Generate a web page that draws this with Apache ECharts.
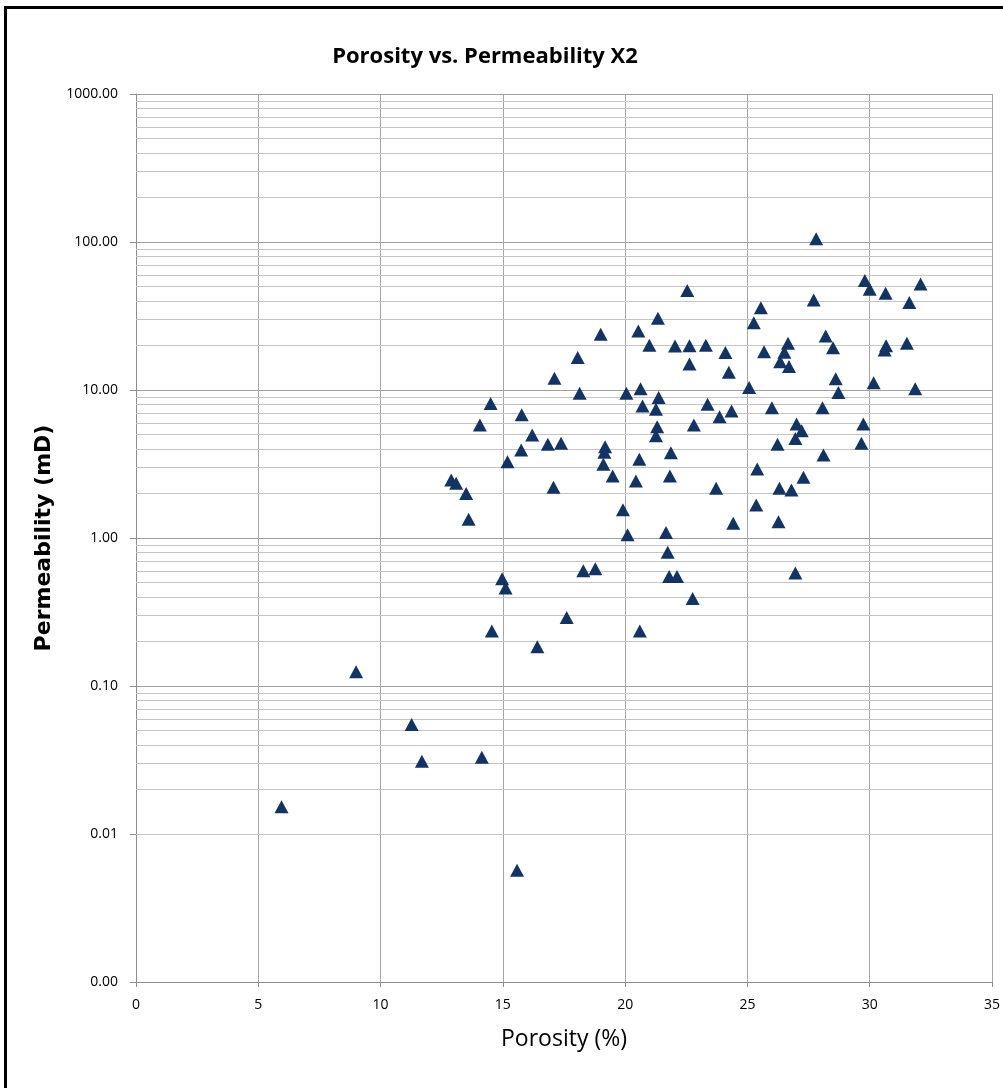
<!DOCTYPE html>
<html>
<head>
<meta charset="utf-8">
<style>
  html, body { margin: 0; padding: 0; background: #ffffff; }
  #chart { width: 1003px; height: 1088px; }
</style>
<script src="https://cdn.jsdelivr.net/npm/echarts@6/dist/echarts.min.js"></script>
</head>
<body>
<div id="chart"></div>
<script>
// Core samples: porosity (%) and permeability (mD)
const porosity = [
  27.81, 29.80, 30.00, 30.65, 32.08, 31.62, 22.54, 27.71, 25.55, 25.26,
  28.20, 28.50, 30.67, 30.61, 31.52, 26.66, 26.51, 26.34, 26.70, 25.68,
  22.63, 22.63, 23.30, 24.10, 24.24, 25.07, 28.61, 28.72, 30.16, 31.86,
  23.37, 23.86, 24.35, 26.00, 28.07, 21.34, 20.54, 19.00, 20.99, 22.04,
  18.06, 17.11, 18.14, 20.05, 20.63, 21.37, 20.71, 21.26, 14.50, 15.77,
  14.06, 21.31, 21.26, 22.81, 16.20, 16.84, 17.38, 15.75, 19.18, 19.15,
  19.11, 15.19, 19.49, 20.58, 21.87, 21.83, 20.44, 12.89, 13.09, 13.50,
  17.07, 13.60, 19.91, 20.10, 21.67, 21.74, 18.29, 18.78, 21.80, 22.12,
  14.97, 15.11, 22.76, 17.61, 27.01, 27.22, 26.96, 29.74, 29.66, 26.23,
  28.11, 25.40, 27.29, 26.31, 26.80, 23.72, 25.36, 24.42, 26.27, 26.96,
  14.55, 20.60, 16.41, 9.00, 11.27, 11.69, 14.14, 5.95, 15.58
];
const permeability = [
  105, 55, 48, 45, 52, 39, 47, 40.5, 36, 28.5,
  23.2, 19.3, 19.9, 18.6, 20.7, 20.7, 18.0, 15.5, 14.4, 18.1,
  19.9, 15.0, 20.1, 17.9, 13.2, 10.4, 11.9, 9.6, 11.2, 10.2,
  8.0, 6.6, 7.2, 7.6, 7.6, 30.5, 25.0, 23.8, 20.1, 19.8,
  16.6, 12.0, 9.5, 9.5, 10.2, 8.9, 7.8, 7.4, 8.1, 6.8,
  5.8, 5.65, 4.9, 5.8, 4.97, 4.3, 4.36, 3.93, 4.14, 3.79,
  3.15, 3.28, 2.62, 3.40, 3.77, 2.62, 2.43, 2.47, 2.34, 2.00,
  2.20, 1.34, 1.55, 1.05, 1.09, 0.80, 0.60, 0.62, 0.55, 0.55,
  0.53, 0.46, 0.39, 0.29, 5.9, 5.3, 4.7, 5.9, 4.36, 4.3,
  3.64, 2.93, 2.57, 2.17, 2.11, 2.17, 1.67, 1.26, 1.29, 0.58,
  0.235, 0.235, 0.184, 0.125, 0.055, 0.031, 0.033, 0.0153, 0.0057
];

// Axis ranges
const xTicks = [0, 5, 10, 15, 20, 25, 30, 35];
const yDecades = [0.001, 0.01, 0.1, 1, 10, 100, 1000];
const minorMultipliers = [2, 3, 4, 5, 6, 7, 8, 9];

const points = porosity.map((p, i) => [p, permeability[i]]);

// Minor gridlines inside each decade (2..9 x 10^k)
const minorLines = [];
for (let d = 0; d < yDecades.length - 1; d++) {
  minorMultipliers.forEach(m => {
    minorLines.push({ yAxis: +(m * yDecades[d]).toPrecision(3) });
  });
}

const chart = echarts.init(document.getElementById('chart'), null, { renderer: 'canvas' });

const labelFont = '"Liberation Sans Narrow", "Open Sans", sans-serif';

chart.setOption({
  animation: false,
  backgroundColor: '#ffffff',
  title: {
    text: 'Porosity vs. Permeability X2',
    left: 480,
    top: 41,
    textAlign: 'center',
    textStyle: {
      fontFamily: labelFont,
      fontSize: 22,
      fontWeight: 'bold',
      color: '#000000'
    }
  },
  // frame edges along the left and top of the page
  graphic: [{
    type: 'polyline',
    shape: { points: [[5.5, 1088], [5.5, 7.5], [1003, 7.5]] },
    style: { fill: null, stroke: '#000000', lineWidth: 3 },
    silent: true,
    z: 100
  }],
  grid: {
    left: 136,
    right: 11,
    top: 94,
    bottom: 106,
    containLabel: false
  },
  xAxis: {
    type: 'value',
    min: xTicks[0],
    max: xTicks[xTicks.length - 1],
    interval: 5,
    name: 'Porosity (%)',
    nameLocation: 'middle',
    nameGap: 46,
    nameTextStyle: {
      fontFamily: labelFont,
      fontSize: 23,
      color: '#000000'
    },
    axisLine: { show: true, lineStyle: { color: '#8c8c8c', width: 1 } },
    axisTick: { show: true, length: 5, lineStyle: { color: '#8c8c8c' } },
    axisLabel: {
      margin: 16,
      fontFamily: labelFont,
      fontSize: 14,
      color: '#000000'
    },
    splitLine: { show: true, lineStyle: { color: '#a6a6a6', width: 1 } }
  },
  yAxis: {
    type: 'log',
    logBase: 10,
    min: yDecades[0],
    max: yDecades[yDecades.length - 1],
    name: 'Permeability (mD)',
    nameLocation: 'middle',
    nameGap: 69,
    nameRotate: 90,
    nameTextStyle: {
      fontFamily: '"DejaVu Sans", Verdana, sans-serif',
      fontSize: 22,
      fontWeight: 'bold',
      color: '#000000'
    },
    axisLine: { show: true, lineStyle: { color: '#8c8c8c', width: 1 } },
    axisTick: { show: true, length: 6, lineStyle: { color: '#8c8c8c' } },
    axisLabel: {
      margin: 18,
      fontFamily: labelFont,
      fontSize: 14,
      color: '#000000',
      formatter: v => Number(v).toFixed(2)
    },
    splitLine: { show: true, lineStyle: { color: '#a0a0a0', width: 1 } }
  },
  series: [
    {
      name: 'minor grid',
      type: 'line',
      data: [],
      silent: true,
      z: 1,
      markLine: {
        silent: true,
        symbol: ['none', 'none'],
        label: { show: false },
        lineStyle: { color: '#c4c4c4', width: 1, type: 'solid' },
        emphasis: { disabled: true },
        data: minorLines
      }
    },
    {
      name: 'Permeability',
      type: 'scatter',
      z: 5,
      symbol: 'triangle',
      symbolSize: [14, 13],
      itemStyle: {
        color: '#133463',
        opacity: 1
      },
      data: points
    }
  ]
});
</script>
</body>
</html>
